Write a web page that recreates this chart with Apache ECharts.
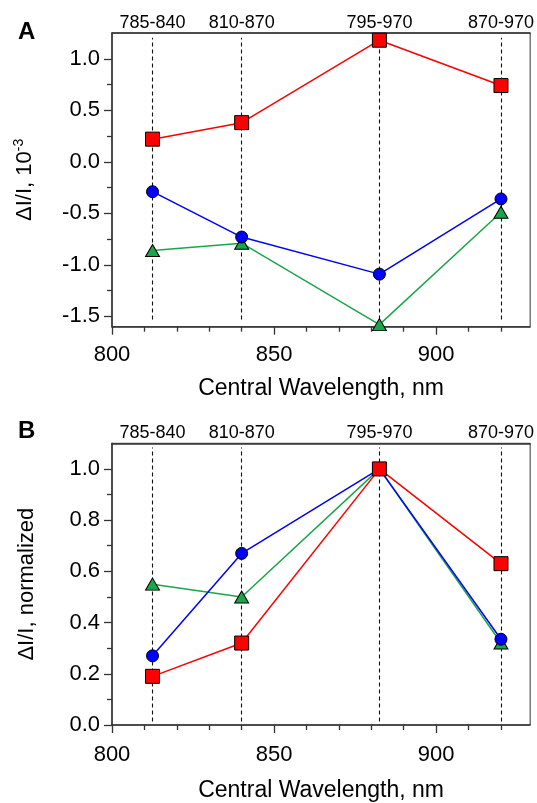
<!DOCTYPE html>
<html>
<head>
<meta charset="utf-8">
<script src="https://cdn.jsdelivr.net/npm/echarts@6/dist/echarts.min.js"></script>
<style>
html,body{margin:0;padding:0;background:#fff;overflow:hidden;}
#c{width:537px;height:803px;}
</style>
</head>
<body>
<div id="c"></div>
<script>
// ---- data ----
const bands = ['785-840', '810-870', '795-970', '870-970'];
const wavelengths = [812.5, 840, 882.5, 920];
const xTicks = [800, 850, 900];
const xMinorTicks = [810, 820, 830, 840, 860, 870, 880, 890, 910, 920];
const topYTicks = [-1.5, -1.0, -0.5, 0.0, 0.5, 1.0];
const topYMinorTicks = [-1.25, -0.75, -0.25, 0.25, 0.75];
const botYTicks = [0.0, 0.2, 0.4, 0.6, 0.8, 1.0];
const botYMinorTicks = [0.1, 0.3, 0.5, 0.7, 0.9];

const topRed = [0.22, 0.38, 1.18, 0.74];
const topBlue = [-0.29, -0.73, -1.09, -0.36];
const topGreen = [-0.86, -0.79, -1.58, -0.49];

const botRed = [0.19, 0.32, 1.0, 0.63];
const botBlue = [0.27, 0.67, 1.0, 0.335];
const botGreen = [0.55, 0.50, 1.0, 0.32];

// ---- styling ----
const FONT = 'Liberation Sans, Arial, Helvetica, sans-serif';
const AX = '#333';
const RED = '#ff0000', BLUE = '#0000ff', GREEN = '#1aa64a';
const X_MIN = 800, X_MAX = 929;

const chart = echarts.init(document.getElementById('c'), null, {renderer: 'canvas', width: 537, height: 803});

function xAxesFor(gi, labelMargin, nameGap) {
  return [
    {
      gridIndex: gi, type: 'value', min: X_MIN, max: X_MAX, position: 'bottom',
      axisLine: {show: true, onZero: false, lineStyle: {color: AX, width: 1.5}},
      axisTick: {show: true, length: 8, customValues: xTicks, lineStyle: {color: AX, width: 1.3}},
      axisLabel: {customValues: xTicks, fontSize: 22, color: '#000', margin: labelMargin, fontFamily: FONT},
      splitLine: {show: false},
      name: 'Central Wavelength, nm', nameLocation: 'middle', nameGap: nameGap,
      nameTextStyle: {fontSize: 23, color: '#000', fontFamily: FONT}
    },
    {
      gridIndex: gi, type: 'value', min: X_MIN, max: X_MAX, position: 'bottom',
      axisLine: {show: false, onZero: false},
      axisTick: {show: true, length: 5, customValues: xMinorTicks, lineStyle: {color: AX, width: 1.3}},
      axisLabel: {show: false},
      splitLine: {show: false}
    },
    {
      gridIndex: gi, type: 'value', min: X_MIN, max: X_MAX, position: 'top',
      axisLine: {show: true, onZero: false, lineStyle: {color: AX, width: 1.5}},
      axisTick: {show: false},
      axisLabel: {
        customValues: wavelengths, fontSize: 18, color: '#000', margin: 1, fontFamily: FONT,
        formatter: function (v) { const i = wavelengths.indexOf(v); return i >= 0 ? bands[i] : ''; }
      },
      splitLine: {show: false}
    }
  ];
}

function yAxesFor(gi, min, max, ticks, minor, name, rich) {
  return [
    {
      gridIndex: gi, type: 'value', min: min, max: max, position: 'left',
      axisLine: {show: true, onZero: false, lineStyle: {color: AX, width: 1.5}},
      axisTick: {show: true, length: 8, customValues: ticks, lineStyle: {color: AX, width: 1.3}},
      axisLabel: {customValues: ticks, fontSize: 22, color: '#000', margin: 12, fontFamily: FONT,
        formatter: function (v) { return v.toFixed(1); }},
      splitLine: {show: false},
      name: name, nameLocation: 'middle', nameGap: 74,
      nameTextStyle: {fontSize: 22, color: '#000', fontFamily: FONT, rich: rich}
    },
    {
      gridIndex: gi, type: 'value', min: min, max: max, position: 'left',
      axisLine: {show: false, onZero: false},
      axisTick: {show: true, length: 5, customValues: minor, lineStyle: {color: AX, width: 1.3}},
      axisLabel: {show: false},
      splitLine: {show: false}
    }
  ];
}

function seriesFor(xi, yi, red, blue, green, lo, hi) {
  const pts = arr => wavelengths.map((x, i) => [x, arr[i]]);
  return [
    {
      type: 'line', xAxisIndex: xi, yAxisIndex: yi, data: pts(green),
      symbol: 'triangle', symbolSize: [14, 12],
      itemStyle: {color: GREEN, borderColor: '#000', borderWidth: 1},
      lineStyle: {color: GREEN, width: 1.5}, z: 3,
      markLine: {
        silent: true, symbol: ['none', 'none'], label: {show: false},
        lineStyle: {color: '#111', width: 1.1, type: [4, 3]},
        data: wavelengths.map(x => [{coord: [x, lo]}, {coord: [x, hi]}]),
        z: 1
      }
    },
    {
      type: 'line', xAxisIndex: xi, yAxisIndex: yi, data: pts(blue),
      symbol: 'circle', symbolSize: 12,
      itemStyle: {color: BLUE, borderColor: '#000', borderWidth: 1},
      lineStyle: {color: BLUE, width: 1.5}, z: 4
    },
    {
      type: 'line', xAxisIndex: xi, yAxisIndex: yi, data: pts(red),
      symbol: 'rect', symbolSize: 14,
      itemStyle: {color: RED, borderColor: '#000', borderWidth: 1},
      lineStyle: {color: RED, width: 1.5}, z: 5
    }
  ];
}

const option = {
  animation: false,
  textStyle: {fontFamily: FONT},
  title: [
    {text: 'A', left: 13, top: 15, textStyle: {fontSize: 24, fontWeight: 'bold', color: '#000', fontFamily: FONT}},
    {text: 'B', left: 13, top: 414, textStyle: {fontSize: 24, fontWeight: 'bold', color: '#000', fontFamily: FONT}}
  ],
  grid: [
    {left: 112, top: 33, width: 424, height: 293.7, show: true, borderColor: AX, borderWidth: 1, backgroundColor: 'transparent'},
    {left: 112, top: 443.3, width: 424, height: 288.4, show: true, borderColor: AX, borderWidth: 1, backgroundColor: 'transparent'}
  ],
  xAxis: xAxesFor(0, 17, 50).concat(xAxesFor(1, 19, 54)),
  yAxis: yAxesFor(0, -1.6, 1.25, topYTicks, topYMinorTicks, '{a|ΔI/I, 10}{s|-3}',
      {a: {fontSize: 22, lineHeight: 26, color: '#000', fontFamily: FONT},
       s: {fontSize: 14, lineHeight: 14, verticalAlign: 'top', color: '#000', fontFamily: FONT}})
    .concat(yAxesFor(1, 0, 1.1, botYTicks, botYMinorTicks, 'ΔI/I, normalized', null)),
  series: seriesFor(0, 0, topRed, topBlue, topGreen, -1.53, 1.205)
    .concat(seriesFor(3, 2, botRed, botBlue, botGreen, 0.014, 1.084))
};

chart.setOption(option);
</script>
</body>
</html>
